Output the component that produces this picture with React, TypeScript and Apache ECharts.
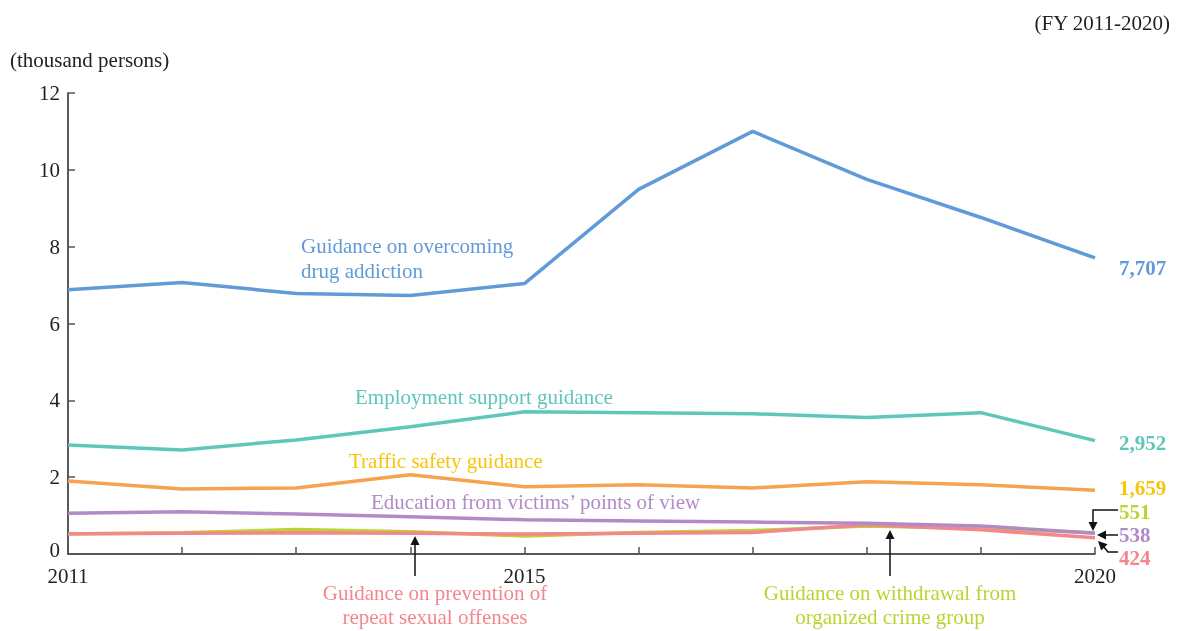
import React, { useEffect, useRef } from "react";
import * as echarts from "echarts";

const years = ["2011", "2012", "2013", "2014", "2015", "2016", "2017", "2018", "2019", "2020"];
const drugAddiction = [6.88, 7.07, 6.78, 6.73, 7.04, 9.49, 11.0, 9.75, 8.76, 7.707];
const employmentSupport = [2.84, 2.71, 2.97, 3.31, 3.7, 3.68, 3.65, 3.55, 3.68, 2.952];
const trafficSafety = [1.9, 1.69, 1.72, 2.06, 1.75, 1.8, 1.72, 1.88, 1.8, 1.659];
const victimsView = [1.06, 1.1, 1.04, 0.97, 0.89, 0.86, 0.83, 0.8, 0.73, 0.538];
const organizedCrime = [0.52, 0.55, 0.64, 0.58, 0.47, 0.56, 0.61, 0.73, 0.67, 0.551];
const sexualOffenses = [0.53, 0.54, 0.55, 0.54, 0.52, 0.54, 0.56, 0.76, 0.63, 0.424];
const shownYears = ["2011", "2015", "2020"];
const endLabels = ["7,707", "2,952", "1,659", "551", "538", "424"];

const FONT = "'Liberation Serif', 'Times New Roman', serif";
const FS = 21;

const C = {
  blue: "#5f9bd6",
  teal: "#5fc7b9",
  orange: "#f7a24c",
  gold: "#f7c50a",
  purple: "#b28bc6",
  green: "#bad432",
  pink: "#f3878d",
};

function arrowHead(x: number, y: number, dir: "up" | "down" | "left" | "upleft") {
  const s = 9;
  const w = 4.5;
  let pts: number[][] = [];
  if (dir === "up") pts = [[x, y], [x - w, y + s], [x + w, y + s]];
  if (dir === "down") pts = [[x, y], [x - w, y - s], [x + w, y - s]];
  if (dir === "left") pts = [[x, y], [x + s, y - w], [x + s, y + w]];
  if (dir === "upleft") {
    const ux = 0.7071, uy = 0.7071;
    const bx = x + ux * s, by = y + uy * s;
    pts = [[x, y], [bx - uy * w, by + ux * w], [bx + uy * w, by - ux * w]];
  }
  return { type: "polygon", shape: { points: pts }, style: { fill: "#111" }, z: 100 };
}

function line(points: number[][]) {
  return { type: "polyline", shape: { points }, style: { stroke: "#111", lineWidth: 1.5, fill: null }, z: 100 };
}

function txt(x: number, y: number, text: string, color: string, opts: any = {}) {
  return {
    type: "text",
    z: 100,
    style: {
      x,
      y,
      text,
      fill: color,
      font: `${opts.bold ? "bold " : ""}${opts.size || FS}px ${FONT}`,
      textAlign: opts.align || "left",
      textVerticalAlign: opts.valign || "middle",
      lineHeight: opts.lineHeight || 24,
    },
  };
}

export default function App() {
  const ref = useRef<HTMLDivElement>(null);
  useEffect(() => {
    if (!ref.current) return;
    const chart = echarts.init(ref.current, undefined, { renderer: "svg" });
    const mk = (name: string, data: number[], color: string, z: number) => ({
      name,
      type: "line",
      data,
      symbol: "none",
      smooth: false,
      z,
      lineStyle: { color, width: 3.5 },
      itemStyle: { color },
    });
    chart.setOption({
      animation: false,
      textStyle: { fontFamily: FONT },
      grid: { left: 68, right: 89, top: 93, bottom: 77, containLabel: false },
      xAxis: {
        type: "category",
        data: years,
        boundaryGap: false,
        axisLine: { lineStyle: { color: "#222", width: 1.5 } },
        axisTick: { inside: true, length: 7, alignWithLabel: true, interval: 0, lineStyle: { color: "#555", width: 1.5 } },
        axisLabel: {
          interval: 0,
          formatter: (v: string) => (shownYears.includes(v) ? v : ""),
          color: "#222",
          fontFamily: FONT,
          fontSize: FS,
          margin: 11,
        },
        splitLine: { show: false },
      },
      yAxis: {
        type: "value",
        min: 0,
        max: 12,
        interval: 2,
        axisLine: { show: true, lineStyle: { color: "#222", width: 1.5 } },
        axisTick: { show: true, inside: true, length: 7, lineStyle: { color: "#555", width: 1.5 } },
        axisLabel: {
          color: "#222",
          fontFamily: FONT,
          fontSize: FS,
          margin: 8,
          formatter: (v: number) => (v === 0 ? "{z|0}" : String(v)),
          rich: { z: { fontFamily: FONT, fontSize: FS, color: "#222", padding: [0, 0, 9, 0] } },
        },
        splitLine: { show: false },
      },
      series: [
        mk("Guidance on overcoming drug addiction", drugAddiction, C.blue, 6),
        mk("Employment support guidance", employmentSupport, C.teal, 5),
        mk("Traffic safety guidance", trafficSafety, C.orange, 4),
        mk("Education from victims' points of view", victimsView, C.purple, 3),
        mk("Guidance on withdrawal from organized crime group", organizedCrime, C.green, 1),
        mk("Guidance on prevention of repeat sexual offenses", sexualOffenses, C.pink, 2),
      ],
      graphic: [
        txt(10, 60, "(thousand persons)", "#222"),
        txt(1170, 23, "(FY 2011-2020)", "#222", { align: "right" }),
        txt(301, 233, "Guidance on overcoming\ndrug addiction", C.blue, { valign: "top", lineHeight: 25 }),
        txt(355, 397, "Employment support guidance", C.teal),
        txt(349, 461, "Traffic safety guidance", C.gold),
        txt(371, 502, "Education from victims\u2019 points of view", C.purple),
        txt(435, 581, "Guidance on prevention of\nrepeat sexual offenses", C.pink, { align: "center", valign: "top", lineHeight: 24 }),
        txt(890, 581, "Guidance on withdrawal from\norganized crime group", C.green, { align: "center", valign: "top", lineHeight: 24 }),
        txt(1119, 268, endLabels[0], C.blue, { bold: true }),
        txt(1119, 443, endLabels[1], C.teal, { bold: true }),
        txt(1119, 488, endLabels[2], C.gold, { bold: true }),
        txt(1119, 512, endLabels[3], C.green, { bold: true }),
        txt(1119, 535, endLabels[4], C.purple, { bold: true }),
        txt(1119, 558, endLabels[5], C.pink, { bold: true }),
        line([[415, 576], [415, 544]]),
        arrowHead(415, 536, "up"),
        line([[890, 576], [890, 538]]),
        arrowHead(890, 530, "up"),
        line([[1118, 510], [1093, 510], [1093, 522]]),
        arrowHead(1093, 531, "down"),
        line([[1118, 535], [1105, 535]]),
        arrowHead(1097, 535, "left"),
        line([[1118, 552], [1108, 552], [1103, 546]]),
        arrowHead(1098, 541, "upleft"),
      ],
    });
    return () => chart.dispose();
  }, []);
  return <div ref={ref} style={{ position: "fixed", left: 0, top: 0, width: 1184, height: 631 }} />;
}
